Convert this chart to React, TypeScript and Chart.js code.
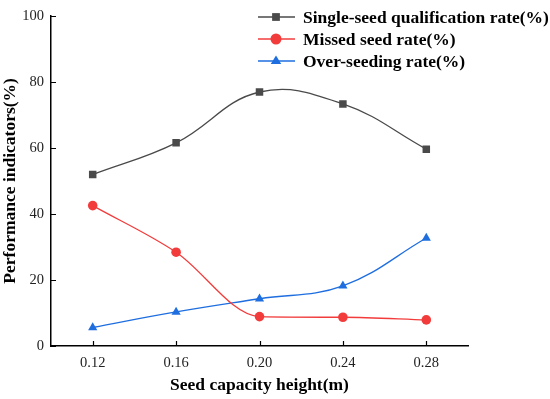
import React, { useEffect, useRef } from "react";
import { Chart, registerables } from "chart.js";

Chart.register(...registerables);

const heights = [0.12, 0.16, 0.2, 0.24, 0.28];
const qualificationRate = [51.9, 61.5, 76.9, 73.3, 59.6];
const missedRate = [42.5, 28.4, 8.9, 8.7, 7.9];
const overSeedingRate = [5.6, 10.3, 14.3, 18.2, 32.7];
const yTicks = [0, 20, 40, 60, 80, 100];

const seriesNames = [
  "Single-seed qualification rate(%)",
  "Missed seed rate(%)",
  "Over-seeding rate(%)",
];
const colors = ["#4a4a4a", "#f23c3c", "#1e6ee0"];
const styles = ["rect", "circle", "triangle"];

const SERIF = "'Liberation Serif', 'Times New Roman', serif";

function drawMarker(ctx: CanvasRenderingContext2D, style: string, x: number, y: number, r: number) {
  ctx.beginPath();
  if (style === "rect") {
    const s = Math.SQRT1_2 * r;
    ctx.rect(x - s, y - s, 2 * s, 2 * s);
  } else if (style === "circle") {
    ctx.arc(x, y, r, 0, Math.PI * 2);
  } else {
    ctx.moveTo(x, y - r);
    ctx.lineTo(x + r * 0.95, y + r * 0.55);
    ctx.lineTo(x - r * 0.95, y + r * 0.55);
    ctx.closePath();
  }
  ctx.fill();
}

const innerTicksAndLegend = {
  id: "innerTicksAndLegend",
  afterDraw(chart: any) {
    const ctx = chart.ctx as CanvasRenderingContext2D;
    const xs = chart.scales.x;
    const ys = chart.scales.y;
    const area = chart.chartArea;
    ctx.save();
    ctx.strokeStyle = "#000";
    ctx.lineWidth = 1.2;
    ctx.beginPath();
    for (const v of yTicks) {
      const py = Math.round(ys.getPixelForValue(v)) + 0.5;
      ctx.moveTo(area.left, py);
      ctx.lineTo(area.left + 5, py);
    }
    for (const v of heights) {
      const px = Math.round(xs.getPixelForValue(v)) + 0.5;
      ctx.moveTo(px, area.bottom);
      ctx.lineTo(px, area.bottom - 5);
    }
    ctx.stroke();

    // legend
    const lx0 = area.left + 207;
    const rowY = [17, 39, 61];
    ctx.font = `bold 17.5px ${SERIF}`;
    ctx.textBaseline = "middle";
    ctx.textAlign = "left";
    for (let i = 0; i < 3; i++) {
      const y = rowY[i];
      ctx.strokeStyle = colors[i];
      ctx.fillStyle = colors[i];
      ctx.lineWidth = 1.5;
      ctx.beginPath();
      ctx.moveTo(lx0, y);
      ctx.lineTo(lx0 + 37, y);
      ctx.stroke();
      drawMarker(ctx, styles[i], lx0 + 18, y, 5.5);
      ctx.fillStyle = "#000";
      ctx.fillText(seriesNames[i], lx0 + 45, y + 1);
    }
    ctx.restore();
  },
};

export default function App() {
  const ref = useRef<HTMLCanvasElement>(null);
  useEffect(() => {
    document.body.style.margin = "0";
    const seriesData = [qualificationRate, missedRate, overSeedingRate];
    const chart = new Chart(ref.current!, {
      type: "line",
      data: {
        datasets: seriesData.map((vals, i) => ({
          label: seriesNames[i],
          data: vals.map((v, j) => ({ x: heights[j], y: v })),
          borderColor: colors[i],
          backgroundColor: colors[i],
          borderWidth: 1.3,
          pointStyle: styles[i] as any,
          pointRadius: i === 1 ? 4.8 : 5.3,
          pointBorderWidth: 0,
          tension: 0.4,
          cubicInterpolationMode: i === 1 ? "monotone" : "default",
          fill: false,
        })) as any,
      },
      options: {
        animation: false,
        responsive: false,
        maintainAspectRatio: false,
        layout: { padding: { top: 9, right: 82, left: 0, bottom: 0 } },
        plugins: { legend: { display: false }, tooltip: { enabled: false } },
        scales: {
          x: {
            type: "linear",
            min: 0.1,
            max: 0.3,
            afterBuildTicks: (scale: any) => {
              scale.ticks = heights.map((v) => ({ value: v }));
            },
            afterFit: (scale: any) => {
              scale.height = 53;
            },
            grid: { display: false, drawTicks: false },
            border: { display: true, color: "#000", width: 1.5 },
            ticks: {
              padding: 8,
              color: "#222",
              font: { family: SERIF, size: 14.5 },
              callback: (v: any) => Number(v).toFixed(2),
              maxRotation: 0,
            },
            title: {
              display: true,
              text: "Seed capacity height(m)",
              color: "#000",
              font: { family: SERIF, size: 17.5, weight: "bold" },
              padding: { top: 0, bottom: 3 },
            },
          },
          y: {
            min: 0,
            max: 100,
            afterBuildTicks: (scale: any) => {
              scale.ticks = yTicks.map((v) => ({ value: v }));
            },
            afterFit: (scale: any) => {
              scale.width = 51;
            },
            grid: { display: false, drawTicks: false },
            border: { display: true, color: "#000", width: 1.5 },
            ticks: {
              padding: 7,
              color: "#222",
              font: { family: SERIF, size: 14.5 },
            },
            title: {
              display: true,
              text: "Performance indicators(%)",
              color: "#000",
              font: { family: SERIF, size: 17.5, weight: "bold" },
              padding: { top: 0, bottom: 0 },
            },
          },
        },
      },
      plugins: [innerTicksAndLegend],
    });
    return () => chart.destroy();
  }, []);
  return (
    <div style={{ width: 550, height: 399, background: "#fff" }}>
      <canvas ref={ref} width={550} height={399} />
    </div>
  );
}
